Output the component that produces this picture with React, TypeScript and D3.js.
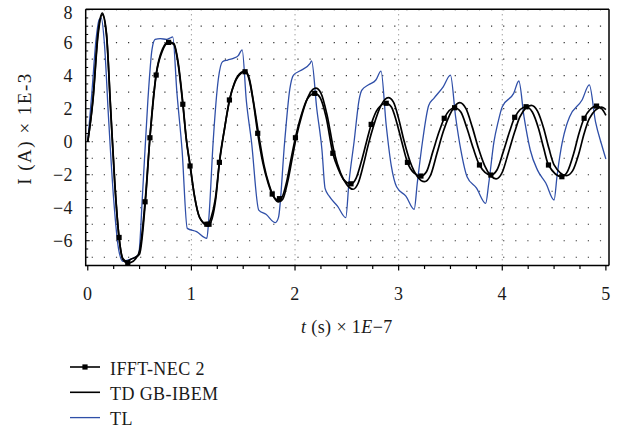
import React from "react";
import * as d3 from "d3";

// IFFT-NEC 2 (black with square markers)
const necT = [0, 0.05, 0.1, 0.14, 0.18, 0.22, 0.26, 0.302, 0.34, 0.386, 0.42, 0.46, 0.5, 0.553, 0.6, 0.66, 0.72, 0.78, 0.83, 0.87, 0.917, 0.95, 0.987, 1.03, 1.08, 1.149, 1.17, 1.21, 1.24, 1.27, 1.32, 1.367, 1.42, 1.48, 1.518, 1.56, 1.6, 1.64, 1.69, 1.74, 1.78, 1.83, 1.87, 1.92, 1.96, 2.004, 2.06, 2.12, 2.19, 2.24, 2.3, 2.365, 2.42, 2.47, 2.54, 2.59, 2.64, 2.69, 2.735, 2.8, 2.88, 2.93, 2.98, 3.03, 3.085, 3.15, 3.215, 3.27, 3.33, 3.39, 3.44, 3.54, 3.6, 3.66, 3.72, 3.78, 3.89, 3.95, 4.01, 4.07, 4.12, 4.23, 4.29, 4.35, 4.4, 4.446, 4.575, 4.63, 4.69, 4.74, 4.79, 4.91, 4.96, 5.0];
const necV = [0, 2.5, 6.5, 7.7, 6.5, 2.0, -2.5, -5.8, -7.15, -7.35, -7.3, -7.1, -6.6, -3.64, 0.24, 4.04, 5.5, 6.02, 5.9, 4.8, 2.27, 0.2, -1.47, -3.3, -4.6, -5.0, -5.0, -4.4, -3.2, -1.25, 0.8, 2.53, 3.6, 4.15, 4.24, 3.7, 2.3, 0.51, -1.3, -2.5, -3.17, -3.5, -3.4, -2.4, -1.1, 0.24, 1.6, 2.6, 2.93, 2.7, 1.5, -0.7, -1.7, -2.3, -2.55, -2.2, -1.2, 0.0, 1.05, 2.0, 2.33, 2.1, 1.2, 0.0, -1.25, -1.9, -2.08, -1.8, -0.6, 0.6, 1.42, 2.06, 1.8, 0.8, -0.4, -1.41, -2.02, -1.7, -0.6, 0.6, 1.48, 2.12, 1.8, 0.8, -0.4, -1.41, -2.12, -1.8, -0.7, 0.5, 1.42, 2.16, 2.0, 1.6];
const necMarkerT = [0.302, 0.386, 0.553, 0.6, 0.66, 0.78, 0.917, 0.987, 1.149, 1.17, 1.27, 1.367, 1.518, 1.64, 1.78, 1.85, 2.004, 2.19, 2.365, 2.54, 2.735, 2.88, 3.085, 3.215, 3.44, 3.54, 3.78, 3.89, 4.12, 4.23, 4.446, 4.575, 4.79, 4.91];

// TD GB-IBEM (black)
const tdT = [0, 0.05, 0.1, 0.14, 0.18, 0.22, 0.26, 0.3, 0.34, 0.38, 0.42, 0.46, 0.5, 0.56, 0.6, 0.66, 0.72, 0.78, 0.83, 0.87, 0.92, 0.95, 0.99, 1.03, 1.08, 1.15, 1.19, 1.23, 1.27, 1.32, 1.37, 1.42, 1.48, 1.52, 1.56, 1.6, 1.65, 1.7, 1.75, 1.8, 1.84, 1.88, 1.93, 1.97, 2.01, 2.07, 2.14, 2.2, 2.25, 2.31, 2.38, 2.44, 2.5, 2.56, 2.61, 2.66, 2.71, 2.76, 2.83, 2.9, 2.95, 3.0, 3.05, 3.11, 3.18, 3.25, 3.31, 3.37, 3.43, 3.48, 3.59, 3.65, 3.71, 3.77, 3.83, 3.94, 4.0, 4.06, 4.12, 4.17, 4.28, 4.34, 4.4, 4.45, 4.5, 4.62, 4.68, 4.74, 4.79, 4.84, 4.96, 5.0];
const tdV = [0, 2.6, 6.7, 7.8, 6.6, 2.1, -2.4, -5.7, -7.1, -7.25, -7.1, -7.0, -6.8, -3.3, 0.3, 4.1, 5.6, 6.05, 5.95, 4.9, 2.2, 0.2, -1.5, -3.3, -4.6, -5.05, -4.6, -3.5, -1.3, 0.8, 2.55, 3.65, 4.2, 4.3, 3.8, 2.4, 0.4, -1.4, -2.6, -3.4, -3.65, -3.5, -2.4, -1.1, 0.2, 1.7, 2.9, 3.25, 2.95, 1.6, -0.7, -1.9, -2.6, -2.88, -2.5, -1.4, -0.1, 1.0, 2.2, 2.67, 2.4, 1.4, 0.1, -1.2, -2.1, -2.42, -2.0, -0.7, 0.6, 1.45, 2.37, 2.0, 0.9, -0.4, -1.45, -2.25, -1.85, -0.65, 0.6, 1.5, 2.2, 1.85, 0.8, -0.4, -1.4, -2.05, -1.75, -0.7, 0.5, 1.4, 2.1, 1.95];

// TL (blue)
const tlT = [0, 0.04, 0.08, 0.11, 0.13, 0.16, 0.2, 0.25, 0.3, 0.34, 0.4, 0.49, 0.53, 0.58, 0.62, 0.65, 0.7, 0.76, 0.8, 0.82, 0.86, 0.91, 0.96, 1.05, 1.149, 1.17, 1.21, 1.26, 1.3, 1.35, 1.405, 1.45, 1.49, 1.53, 1.58, 1.65, 1.72, 1.81, 1.84, 1.9, 1.95, 1.985, 2.05, 2.146, 2.16, 2.21, 2.26, 2.29, 2.33, 2.41, 2.49, 2.52, 2.57, 2.62, 2.645, 2.71, 2.78, 2.83, 2.88, 2.93, 2.98, 3.07, 3.15, 3.18, 3.23, 3.29, 3.34, 3.43, 3.5, 3.55, 3.6, 3.66, 3.75, 3.84, 3.87, 3.92, 3.96, 4.0, 4.11, 4.16, 4.21, 4.27, 4.34, 4.42, 4.5, 4.53, 4.58, 4.62, 4.65, 4.77, 4.84, 4.9, 4.96, 5.0];
const tlV = [0, 3.0, 6.2, 7.4, 7.5, 6.0, 1.5, -3.5, -6.6, -7.25, -7.15, -6.85, -3.0, 2.5, 5.6, 6.2, 6.25, 6.2, 6.3, 6.35, 3.0, -0.5, -5.25, -5.45, -5.85, -4.5, 0.0, 3.8, 4.85, 4.95, 5.05, 5.2, 5.56, 2.5, 0.0, -4.14, -4.4, -4.9, -4.6, 0.0, 3.2, 4.04, 4.3, 4.75, 4.9, 2.0, -0.5, -2.83, -3.3, -3.9, -4.6, -2.5, 0.0, 2.6, 3.13, 3.45, 3.74, 4.28, 1.0, -1.5, -2.73, -3.3, -4.1, -2.5, 0.0, 2.2, 2.63, 3.33, 4.04, 1.5, -0.5, -2.12, -2.8, -3.73, -2.5, 0.0, 1.2, 2.12, 2.93, 3.68, 1.5, -0.5, -1.72, -2.5, -3.53, -2.0, 0.0, 1.0, 1.52, 2.53, 3.44, 1.2, -0.2, -1.05];

const xTicks = [0, 1, 2, 3, 4, 5];
const yTicks = [-6, -4, -2, 0, 2, 4, 6, 8];
const legendLabels = ["IFFT-NEC 2", "TD GB-IBEM", "TL"];

const W = 624;
const H = 431;
const FONT = "Liberation Serif";

export default function App() {
  const x = d3.scaleLinear().domain([-0.02, 5.03]).range([85.7, 609]);
  const y = d3.scaleLinear().domain([-7.5, 8]).range([265.5, 9.7]);
  const x0 = x(-0.02);
  const x1 = x(5.03);
  const yTop = 9.3;
  const yBot = y(-7.5);

  const line = d3
    .line<[number, number]>()
    .x((d) => x(d[0]))
    .y((d) => y(d[1]))
    .curve(d3.curveMonotoneX);

  const nec: [number, number][] = necT.map((t, i) => [t, necV[i]]);
  const td: [number, number][] = tdT.map((t, i) => [t, tdV[i]]);
  const tl: [number, number][] = tlT.map((t, i) => [t, tlV[i]]);
  const interp = (t: number) => {
    for (let i = 0; i < necT.length - 1; i++) {
      if (t >= necT[i] && t <= necT[i + 1]) {
        const f = (t - necT[i]) / (necT[i + 1] - necT[i]);
        return necV[i] + f * (necV[i + 1] - necV[i]);
      }
    }
    return 0;
  };

  const gridRows = d3.range(-7, 9, 1);
  const gridCols = [1, 2, 3, 4];
  const xMinor = d3.range(0, 5.001, 0.25);
  const yMinor = d3.range(-7.5, 8.001, 0.5);
  const txt = { fontFamily: FONT, fontSize: 18, fill: "#1a1a1a", letterSpacing: 0.4 } as const;

  return (
    <svg
      width={W}
      height={H}
      style={{ position: "absolute", left: 0, top: 0, background: "#fff" }}
    >
      <rect width={W} height={H} fill="#fff" />
      {gridRows.map((v) => (
        <line
          key={"gr" + v}
          x1={x0 + 6}
          x2={x1}
          y1={y(v)}
          y2={y(v)}
          stroke="#333"
          strokeWidth={1.2}
          strokeDasharray="1.2,10.9"
        />
      ))}
      {gridCols.map((t) => (
        <line
          key={"gc" + t}
          x1={x(t)}
          x2={x(t)}
          y1={yTop}
          y2={yBot}
          stroke="#777"
          strokeWidth={1}
          strokeDasharray="1,4"
        />
      ))}
      <path d={line(tl) || ""} fill="none" stroke="#2f4fa8" strokeWidth={1.3} />
      <path d={line(td) || ""} fill="none" stroke="#000" strokeWidth={1.7} />
      <path d={line(nec) || ""} fill="none" stroke="#000" strokeWidth={1.7} />
      {necMarkerT.map((t, i) => (
        <rect key={"m" + i} x={x(t) - 2.6} y={y(interp(t)) - 2.6} width={5.2} height={5.2} fill="#000" />
      ))}
      <line x1={x0} x2={x1} y1={yTop} y2={yTop} stroke="#000" strokeWidth={1.5} />
      <line x1={x1} x2={x1} y1={yTop} y2={yBot} stroke="#000" strokeWidth={1.5} />
      <line x1={x0} x2={x0} y1={yTop} y2={yBot + 0.7} stroke="#000" strokeWidth={1.5} />
      <line x1={x0} x2={x1} y1={yBot} y2={yBot} stroke="#000" strokeWidth={1.5} />
      {xMinor.map((t, i) => (
        <line
          key={"xm" + i}
          x1={x(t)}
          x2={x(t)}
          y1={yBot}
          y2={yBot + (Math.abs(t - Math.round(t)) < 1e-6 ? 5 : 3.5)}
          stroke="#000"
          strokeWidth={1.2}
        />
      ))}
      {xTicks.map((t) => (
        <text key={"xt" + t} x={x(t)} y={299.5} textAnchor="middle" style={txt}>
          {t}
        </text>
      ))}
      {yMinor.map((v, i) => (
        <line
          key={"ym" + i}
          x1={x0}
          x2={x0 + (Math.abs(v % 2) < 1e-6 ? 4 : 2.5)}
          y1={y(v)}
          y2={y(v)}
          stroke="#000"
          strokeWidth={1}
        />
      ))}
      {yTicks.map((v) => (
        <text key={"yt" + v} x={73} y={v === 8 ? 18.5 : y(v) + 6} textAnchor="end" style={txt}>
          {v < 0 ? "\u2212" + Math.abs(v) : v}
        </text>
      ))}
      <text x={x(2.5)} y={333} textAnchor="middle" style={txt}>
        <tspan fontStyle="italic">t</tspan> (s) × 1<tspan fontStyle="italic">E</tspan>−7
      </text>
      <text
        transform={`translate(31,128.5) rotate(-90)`}
        textAnchor="middle"
        style={{ ...txt, fontSize: 19, letterSpacing: 1.5 }}
      >
        I (A) × 1E-3
      </text>
      {legendLabels.map((lab, i) => {
        const ly = 367 + i * 25.3;
        const col = i === 2 ? "#2f4fa8" : "#000";
        return (
          <g key={lab}>
            <line x1={70} x2={100} y1={ly} y2={ly} stroke={col} strokeWidth={i === 2 ? 1.3 : 1.6} />
            {i === 0 && <rect x={82.4} y={ly - 2.6} width={5.2} height={5.2} fill="#000" />}
            <text x={110} y={ly + 7.5} style={txt}>
              {lab}
            </text>
          </g>
        );
      })}
    </svg>
  );
}
